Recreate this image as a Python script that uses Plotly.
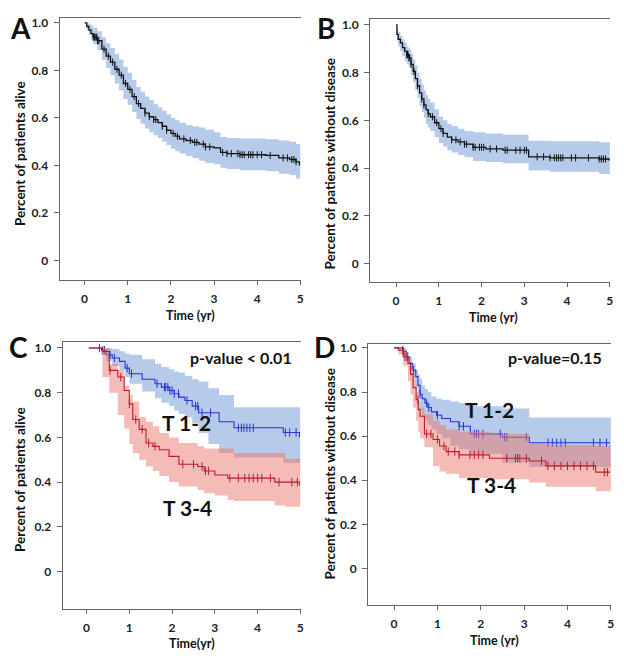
import numpy as np
import plotly.graph_objects as go

# ---- data: Kaplan-Meier curves ----
# Panel A: overall survival
a_t = [0, 0.05, 0.1, 0.15, 0.2, 0.3, 0.4, 0.5, 0.6, 0.7, 0.8, 0.9, 1.0, 1.1, 1.2, 1.3, 1.4, 1.5, 1.6, 1.7,
       1.8, 1.9, 2.0, 2.1, 2.2, 2.35, 2.5, 2.65, 2.8, 3.0, 3.15, 3.3, 3.6, 4.2, 4.5, 4.75, 4.9, 4.98]
a_s = [1.0, 0.985, 0.97, 0.955, 0.94, 0.925, 0.89, 0.86, 0.835, 0.805, 0.78, 0.745, 0.72, 0.69, 0.66, 0.64,
       0.62, 0.605, 0.593, 0.58, 0.565, 0.548, 0.535, 0.523, 0.512, 0.505, 0.497, 0.49, 0.478, 0.474, 0.455,
       0.45, 0.445, 0.442, 0.432, 0.425, 0.415, 0.40]
a_up = [1.0, 1.0, 0.995, 0.99, 0.98, 0.965, 0.94, 0.915, 0.895, 0.87, 0.845, 0.815, 0.79, 0.76, 0.73, 0.71,
        0.69, 0.675, 0.66, 0.645, 0.63, 0.615, 0.6, 0.59, 0.58, 0.57, 0.565, 0.56, 0.55, 0.54, 0.52, 0.515,
        0.513, 0.51, 0.505, 0.5, 0.49, 0.48]
a_lo = [1.0, 0.97, 0.95, 0.93, 0.91, 0.885, 0.845, 0.81, 0.78, 0.745, 0.715, 0.68, 0.655, 0.625, 0.595, 0.575,
        0.555, 0.54, 0.527, 0.515, 0.5, 0.485, 0.47, 0.46, 0.45, 0.44, 0.43, 0.42, 0.41, 0.405, 0.39, 0.385,
        0.38, 0.375, 0.365, 0.36, 0.345, 0.33]
a_cens = [0.2, 0.23, 0.26, 0.28, 0.3, 0.33, 0.45, 0.55, 0.65, 0.75, 0.85, 0.95, 1.05, 1.15, 1.25, 1.4, 1.5,
          1.6, 1.65, 1.8, 1.9, 2.05, 2.15, 2.3, 2.45, 2.55, 2.6, 2.75, 2.8, 2.9, 3.2, 3.3, 3.4, 3.55, 3.6,
          3.65, 3.7, 3.8, 3.85, 3.9, 4.0, 4.1, 4.3, 4.6, 4.7, 4.8, 4.85, 4.9]

# Panel B: disease-free survival
b_t = [0, 0.02, 0.05, 0.1, 0.15, 0.2, 0.25, 0.3, 0.35, 0.4, 0.45, 0.5, 0.55, 0.6, 0.65, 0.7, 0.75, 0.8, 0.9,
       1.0, 1.1, 1.2, 1.3, 1.45, 1.6, 1.8, 2.1, 2.5, 3.1, 3.6, 4.75, 4.98]
b_s = [1.0, 0.96, 0.94, 0.925, 0.905, 0.89, 0.875, 0.862, 0.835, 0.805, 0.775, 0.745, 0.715, 0.69, 0.665,
       0.645, 0.628, 0.615, 0.59, 0.565, 0.545, 0.53, 0.518, 0.51, 0.5, 0.487, 0.48, 0.475, 0.447, 0.443,
       0.438, 0.432]
b_up = [1.0, 0.985, 0.97, 0.955, 0.94, 0.925, 0.91, 0.9, 0.88, 0.855, 0.83, 0.8, 0.775, 0.75, 0.725, 0.705,
        0.69, 0.675, 0.645, 0.615, 0.6, 0.585, 0.575, 0.565, 0.555, 0.55, 0.545, 0.54, 0.515, 0.512, 0.508,
        0.503]
b_lo = [1.0, 0.935, 0.91, 0.89, 0.87, 0.85, 0.835, 0.82, 0.79, 0.76, 0.725, 0.695, 0.66, 0.635, 0.61, 0.585,
        0.57, 0.555, 0.53, 0.505, 0.49, 0.475, 0.465, 0.455, 0.445, 0.43, 0.425, 0.42, 0.39, 0.385, 0.375,
        0.36]
b_cens = [0.25, 0.27, 0.28, 0.3, 0.32, 0.35, 0.42, 0.5, 0.6, 0.65, 0.75, 0.85, 0.95, 1.05, 1.1, 1.3, 1.4,
          1.5, 1.6, 1.65, 1.8, 1.85, 1.95, 2.0, 2.05, 2.2, 2.35, 2.55, 2.6, 2.8, 2.9, 3.0, 3.05, 3.3, 3.45,
          3.6, 3.7, 3.75, 3.8, 3.85, 3.9, 4.1, 4.2, 4.5, 4.75, 4.8, 4.85, 4.9]

# Panel C: survival by T stage
c12_t = [0.05, 0.35, 0.46, 0.6, 0.77, 0.9, 1.0, 1.3, 1.6, 1.75, 1.93, 2.05, 2.16, 2.3, 2.47, 2.62, 2.85,
         3.1, 3.45, 4.6, 4.98]
c12_s = [1.0, 0.99, 0.97, 0.955, 0.94, 0.91, 0.885, 0.86, 0.84, 0.825, 0.81, 0.795, 0.78, 0.765, 0.74,
         0.71, 0.71, 0.67, 0.643, 0.622, 0.6]
c12_up = [1.0, 1.0, 1.0, 0.995, 0.985, 0.975, 0.97, 0.95, 0.93, 0.915, 0.905, 0.895, 0.89, 0.875, 0.86,
          0.85, 0.82, 0.79, 0.735, 0.735, 0.735]
c12_lo = [1.0, 0.97, 0.94, 0.92, 0.9, 0.87, 0.84, 0.805, 0.775, 0.755, 0.74, 0.72, 0.705, 0.69, 0.665,
          0.62, 0.57, 0.53, 0.51, 0.485, 0.485]
c12_cens = [0.38, 0.42, 0.55, 0.65, 0.95, 1.05, 1.65, 1.82, 1.85, 1.9, 1.95, 2.0, 2.05, 2.15, 2.35, 2.55,
            2.6, 2.7, 2.9, 3.55, 3.62, 3.68, 3.75, 3.82, 3.9, 4.65, 4.75, 4.9]

c34_t = [0.05, 0.37, 0.53, 0.73, 0.88, 1.0, 1.08, 1.23, 1.39, 1.55, 1.7, 1.93, 2.16, 2.6, 2.75, 3.0, 3.3,
         3.44, 4.4, 4.65, 4.98]
c34_s = [1.0, 0.985, 0.9, 0.87, 0.81, 0.75, 0.68, 0.636, 0.575, 0.56, 0.545, 0.515, 0.48, 0.47, 0.45,
         0.432, 0.418, 0.418, 0.4, 0.4, 0.385]
c34_up = [1.0, 1.0, 0.93, 0.9, 0.83, 0.79, 0.76, 0.69, 0.67, 0.65, 0.62, 0.6, 0.575, 0.56, 0.55, 0.55,
          0.55, 0.53, 0.53, 0.505, 0.505]
c34_lo = [1.0, 0.87, 0.8, 0.7, 0.64, 0.57, 0.53, 0.5, 0.47, 0.45, 0.427, 0.4, 0.38, 0.365, 0.35, 0.34,
          0.32, 0.315, 0.295, 0.29, 0.27]
c34_cens = [0.3, 0.55, 0.8, 1.0, 1.15, 1.3, 1.45, 1.6, 2.25, 2.5, 2.7, 2.78, 2.85, 3.35, 3.55, 3.7, 3.8,
            3.9, 4.0, 4.1, 4.3, 4.5, 4.8, 4.93]

# Panel D: disease-free survival by T stage
d12_t = [0.0, 0.2, 0.28, 0.35, 0.42, 0.5, 0.55, 0.6, 0.65, 0.71, 0.78, 0.86, 0.98, 1.1, 1.3, 1.5, 1.76,
         2.5, 3.12, 4.98]
d12_s = [1.0, 0.985, 0.96, 0.93, 0.9, 0.87, 0.83, 0.79, 0.77, 0.75, 0.73, 0.71, 0.695, 0.68, 0.665, 0.645,
         0.61, 0.595, 0.57, 0.57]
d12_up = [1.0, 1.0, 0.98, 0.96, 0.93, 0.9, 0.88, 0.86, 0.83, 0.815, 0.8, 0.78, 0.77, 0.765, 0.757, 0.75,
          0.735, 0.725, 0.685, 0.68]
d12_lo = [1.0, 0.97, 0.94, 0.9, 0.86, 0.82, 0.77, 0.72, 0.69, 0.67, 0.65, 0.63, 0.61, 0.59, 0.555, 0.54,
          0.52, 0.48, 0.46, 0.44]
d12_cens = [0.22, 0.3, 0.45, 0.6, 0.75, 0.8, 1.0, 1.5, 1.6, 1.85, 1.9, 1.95, 2.05, 2.45, 2.55, 2.6, 3.05,
            3.55, 3.65, 3.75, 3.85, 3.95, 4.6, 4.75, 4.9]

d34_t = [0.0, 0.1, 0.21, 0.32, 0.38, 0.44, 0.51, 0.56, 0.6, 0.7, 0.9, 1.05, 1.2, 1.5, 2.2, 3.12, 3.5,
         4.65, 4.98]
d34_s = [1.0, 0.99, 0.96, 0.93, 0.88, 0.82, 0.765, 0.72, 0.69, 0.61, 0.585, 0.555, 0.53, 0.515, 0.5,
         0.487, 0.465, 0.437, 0.437]
d34_up = [1.0, 1.0, 0.98, 0.95, 0.91, 0.86, 0.8, 0.76, 0.73, 0.7, 0.67, 0.65, 0.63, 0.62, 0.61, 0.565,
          0.56, 0.555, 0.555]
d34_lo = [1.0, 0.97, 0.92, 0.85, 0.79, 0.73, 0.67, 0.62, 0.59, 0.55, 0.465, 0.44, 0.43, 0.41, 0.405, 0.39,
          0.37, 0.35, 0.32]
d34_cens = [0.2, 0.25, 0.3, 0.55, 0.75, 0.85, 1.0, 1.15, 1.25, 1.4, 1.5, 1.75, 1.85, 1.95, 2.05, 2.6, 2.8,
            2.85, 2.9, 3.05, 3.4, 3.55, 3.7, 3.85, 4.0, 4.15, 4.3, 4.45, 4.6, 4.85, 4.92]

y_ticks = [0, 0.2, 0.4, 0.6, 0.8, 1.0]
y_ticktext = ['0', '0.2', '0.4', '0.6', '0.8', '1.0']
x_ticks = [0, 1, 2, 3, 4, 5]

# the page body has an 8px margin, so the figure is drawn 8px in from the window corner
OFF = 8
W, H = 624 - OFF, 658 - OFF
FONT = 'Lato, Arial, sans-serif'
BLUE_FILL = 'rgba(120,160,215,0.55)'
RED_FILL = 'rgba(235,120,110,0.5)'


def step_val(t, s, tc):
    t = np.asarray(t)
    s = np.asarray(s)
    idx = np.clip(np.searchsorted(t, tc, side='right') - 1, 0, len(s) - 1)
    return s[idx]


def km(fig, ax, t, s, up, lo, cens, line_color, fill_color, lw=1.3, msize=6):
    xa, ya = ('x', 'y') if ax == 1 else (f'x{ax}', f'y{ax}')
    t_band = list(t[:-1]) + [5.0]
    fig.add_trace(go.Scatter(x=t_band, y=lo, xaxis=xa, yaxis=ya, mode='lines', line_shape='hv',
                             line=dict(width=0), showlegend=False, hoverinfo='skip'))
    fig.add_trace(go.Scatter(x=t_band, y=up, xaxis=xa, yaxis=ya, mode='lines', line_shape='hv',
                             line=dict(width=0), fill='tonexty', fillcolor=fill_color,
                             showlegend=False, hoverinfo='skip'))
    fig.add_trace(go.Scatter(x=t, y=s, xaxis=xa, yaxis=ya, mode='lines', line_shape='hv',
                             line=dict(color=line_color, width=lw), showlegend=False))
    fig.add_trace(go.Scatter(x=cens, y=step_val(t, s, cens), xaxis=xa, yaxis=ya, mode='markers',
                             marker=dict(symbol='line-ns', size=msize, line=dict(color=line_color, width=1)),
                             showlegend=False))


fig = go.Figure()
km(fig, 1, a_t, a_s, a_up, a_lo, a_cens, '#111', BLUE_FILL, 1.3, 5)
km(fig, 2, b_t, b_s, b_up, b_lo, b_cens, '#111', BLUE_FILL, 1.3, 5)
km(fig, 3, c12_t, c12_s, c12_up, c12_lo, c12_cens, 'rgb(45,50,215)', BLUE_FILL, 1.1)
km(fig, 3, c34_t, c34_s, c34_up, c34_lo, c34_cens, 'rgb(185,30,45)', RED_FILL, 1.1)
km(fig, 4, d12_t, d12_s, d12_up, d12_lo, d12_cens, 'rgb(45,50,215)', BLUE_FILL, 1.1)
km(fig, 4, d34_t, d34_s, d34_up, d34_lo, d34_cens, 'rgb(185,30,45)', RED_FILL, 1.1)

# panel boxes (window pixels: left, right, top, bottom) and axis ranges
panels = {
    1: dict(box=(60, 302, 14, 278), xr=[-0.576, 5.005], yr=[-0.084, 1.021]),
    2: dict(box=(372, 613, 15, 280), xr=[-0.605, 5.005], yr=[-0.079, 1.025]),
    3: dict(box=(63, 302, 340, 609), xr=[-0.558, 5.005], yr=[-0.169, 1.027]),
    4: dict(box=(370, 614, 342, 605), xr=[-0.596, 5.005], yr=[-0.167, 1.018]),
}


def px(x):
    return (x - OFF) / W


def py(y):
    return 1 - (y - OFF) / H


tickfont = dict(family=FONT, size=12, color='#222', weight='bold')
layout = {}
for k, p in panels.items():
    l, r, t, b = p['box']
    xk = 'xaxis' if k == 1 else f'xaxis{k}'
    yk = 'yaxis' if k == 1 else f'yaxis{k}'
    ya = 'y' if k == 1 else f'y{k}'
    xa = 'x' if k == 1 else f'x{k}'
    layout[xk] = dict(domain=[px(l), min(px(r), 1)], range=p['xr'], anchor=ya, tickvals=x_ticks,
                      showline=True, mirror=True, linecolor='#666', linewidth=1.3, ticks='outside',
                      ticklen=4, tickcolor='#666', showgrid=False, zeroline=False, tickfont=tickfont,
                      ticklabelstandoff=3, ticklabeloverflow='allow')
    layout[yk] = dict(domain=[py(b), py(t)], range=p['yr'], anchor=xa, tickvals=y_ticks,
                      ticktext=y_ticktext, showline=True, linecolor='#666', linewidth=1.3,
                      ticks='outside', ticklen=5, tickcolor='#666', showgrid=False, zeroline=False,
                      tickfont=tickfont, ticklabelstandoff=3)


def ann(text, x, y, size, angle=0):
    return dict(text=text, x=px(x), y=py(y), xref='paper', yref='paper', showarrow=False,
                xanchor='center', yanchor='middle', textangle=angle,
                font=dict(family=FONT, size=size, color='#111', weight='bold'))


annotations = [
    ann('A', 21, 24, 28), ann('B', 328, 24, 28), ann('C', 19, 345, 28), ann('D', 326, 345, 28),
    ann('Percent of patients alive', 20, 150, 13.5, -90),
    ann('Percent of patients without disease', 332, 160, 13.5, -90),
    ann('Percent of patients alive', 20, 478, 13.5, -90),
    ann('Percent of patients without disease', 332, 472, 13.5, -90),
    ann('Time (yr)', 191, 313, 12.5), ann('Time (yr)', 496, 315, 12.5),
    ann('Time(yr)', 193, 643, 12.5), ann('Time (yr)', 497, 640, 12.5),
    ann('p-value &lt; 0.01', 242, 356, 16), ann('p-value=0.15', 558, 356, 16),
    ann('T 1-2', 187, 421, 21), ann('T 3-4', 188, 507, 21),
    ann('T 1-2', 492, 408, 21), ann('T 3-4', 494, 483, 21),
]

fig.update_layout(width=W, height=H, margin=dict(l=0, r=0, t=0, b=0), plot_bgcolor='white',
                  paper_bgcolor='white', showlegend=False, annotations=annotations, **layout)

fig.write_html("out.html")
